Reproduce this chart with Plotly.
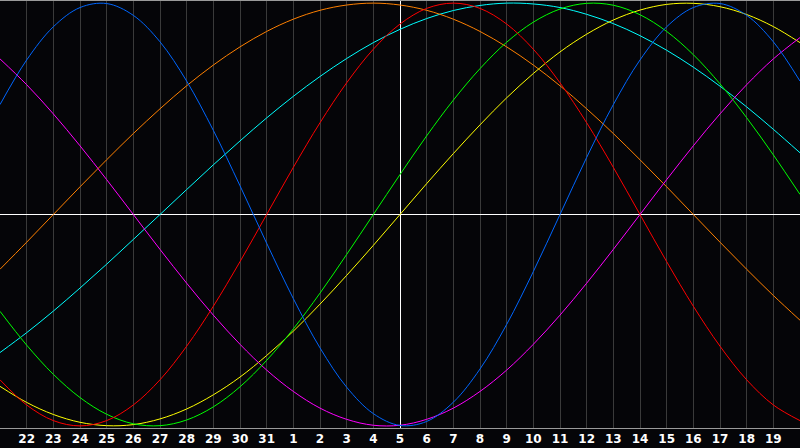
import plotly.graph_objects as go

# Days shown (21st of one month to 20th of the next)
days = [str(d) for d in list(range(21, 32)) + list(range(1, 21))]
today = "5"

# Biorhythm cycles, one value per day (-1 .. 1)
physical = [0.520, 0.731, 0.888, 0.979, 0.998, 0.942, 0.817, 0.631, 0.398, 0.136, -0.136,
            -0.398, -0.631, -0.817, -0.942, -0.998, -0.979, -0.888, -0.731, -0.520, -0.270,
            0.000, 0.270, 0.520, 0.731, 0.888, 0.979, 0.998, 0.942, 0.817, 0.631]
emotional = [-0.782, -0.901, -0.975, -1.000, -0.975, -0.901, -0.782, -0.623, -0.434, -0.223, 0.000,
             0.223, 0.434, 0.623, 0.782, 0.901, 0.975, 1.000, 0.975, 0.901, 0.782,
             0.623, 0.434, 0.223, 0.000, -0.223, -0.434, -0.623, -0.782, -0.901, -0.975]
intellectual = [-0.458, -0.618, -0.756, -0.866, -0.945, -0.990, -0.999, -0.972, -0.910, -0.815, -0.690,
                -0.541, -0.372, -0.189, 0.000, 0.189, 0.372, 0.541, 0.690, 0.815, 0.910,
                0.972, 0.999, 0.990, 0.945, 0.866, 0.756, 0.618, 0.458, 0.282, 0.095]
intuitive = [0.736, 0.614, 0.476, 0.325, 0.165, 0.000, -0.165, -0.325, -0.476, -0.614, -0.736,
             -0.837, -0.916, -0.969, -0.997, -0.997, -0.969, -0.916, -0.837, -0.736, -0.614,
             -0.476, -0.325, -0.165, 0.000, 0.165, 0.325, 0.476, 0.614, 0.736, 0.837]
aesthetic = [-0.813, -0.889, -0.946, -0.983, -0.999, -0.994, -0.967, -0.920, -0.853, -0.769, -0.667,
             -0.552, -0.424, -0.288, -0.146, 0.000, 0.146, 0.288, 0.424, 0.552, 0.667,
             0.769, 0.853, 0.920, 0.967, 0.994, 0.999, 0.983, 0.946, 0.889, 0.813]
awareness = [-0.259, -0.131, 0.000, 0.131, 0.259, 0.383, 0.500, 0.609, 0.707, 0.793, 0.866,
             0.924, 0.966, 0.991, 1.000, 0.991, 0.966, 0.924, 0.866, 0.793, 0.707,
             0.609, 0.500, 0.383, 0.259, 0.131, 0.000, -0.131, -0.259, -0.383, -0.500]
spiritual = [-0.653, -0.559, -0.457, -0.348, -0.235, -0.118, 0.000, 0.118, 0.235, 0.348, 0.457,
             0.559, 0.653, 0.738, 0.813, 0.876, 0.927, 0.965, 0.989, 1.000, 0.996,
             0.979, 0.947, 0.903, 0.846, 0.777, 0.697, 0.607, 0.509, 0.403, 0.292]

series = [
    ("Spiritual", spiritual, "#00ffff"),
    ("Awareness", awareness, "#ff8000"),
    ("Aesthetic", aesthetic, "#ffff00"),
    ("Intuitive", intuitive, "#ff00ff"),
    ("Intellectual", intellectual, "#00ff00"),
    ("Emotional", emotional, "#ff0000"),
    ("Physical", physical, "#0066ff"),
]

fig = go.Figure()
for name, vals, col in series:
    # last series sits on the overlay axis, which carries the white "today" grid line
    xa = "x2" if name == "Physical" else "x"
    fig.add_trace(go.Scatter(x=days, y=vals, mode="lines", name=name, xaxis=xa,
                             line=dict(color=col, width=1, shape="spline", smoothing=1.0)))

axis_font = dict(family="DejaVu Sans", size=12, color="white", weight="bold")

fig.update_layout(
    width=800, height=448, showlegend=False,
    paper_bgcolor="#050508", plot_bgcolor="#050508",
    margin=dict(l=0, r=0, t=1, b=20),
    xaxis=dict(type="category", categoryorder="array", categoryarray=days,
               range=[0, len(days) - 1], tickvals=days[1:-1],
               showgrid=True, gridcolor="#3a3a3a", gridwidth=1,
               showline=True, linecolor="#9a9a9a", linewidth=1, mirror=True,
               ticks="", tickfont=axis_font, fixedrange=True),
    xaxis2=dict(type="category", categoryorder="array", categoryarray=days,
                range=[0, len(days) - 1], tickvals=[today], overlaying="x",
                showgrid=True, gridcolor="white", gridwidth=1,
                showticklabels=False, ticks="", showline=False, fixedrange=True),
    yaxis=dict(range=[-1.01, 1.01], showgrid=False, showticklabels=False,
               zeroline=True, zerolinecolor="white", zerolinewidth=1,
               showline=True, linecolor="#9a9a9a", linewidth=1, mirror=True,
               fixedrange=True),
)

# drop the browser's default page margin so the chart fills the window
fig.write_html("out.html", config={"displayModeBar": False},
               post_script="document.body.style.margin='0';"
                           "document.body.style.background='#050508';")
